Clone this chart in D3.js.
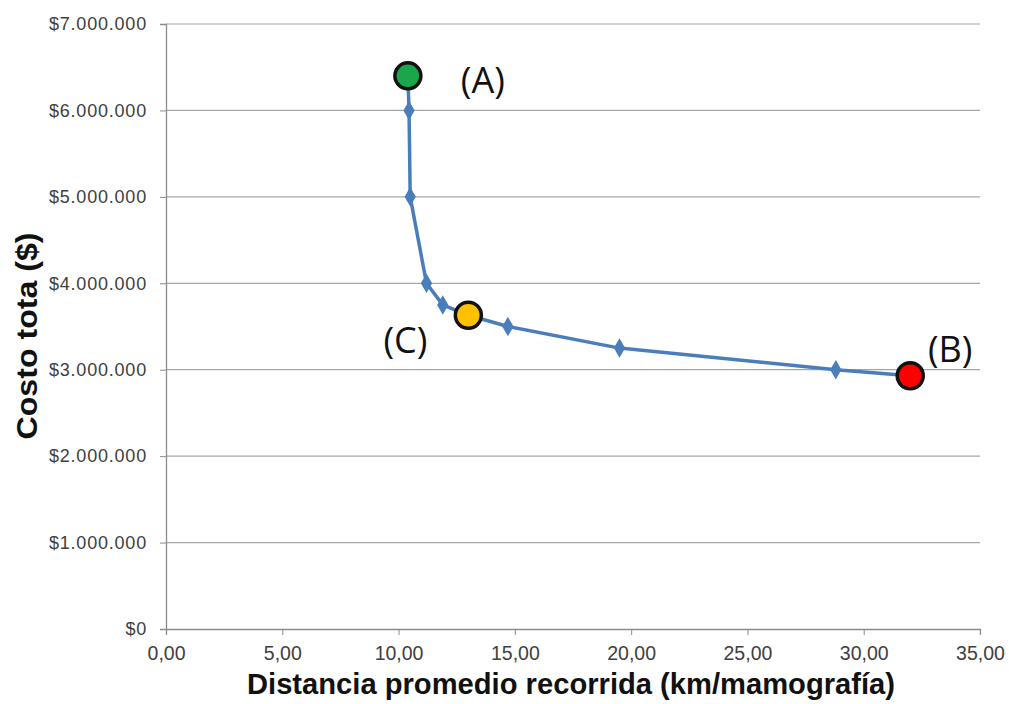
<!DOCTYPE html>
<html><head><meta charset="utf-8">
<script src="https://cdn.jsdelivr.net/npm/d3@7"></script>
<style>body{margin:0;background:#fff}svg{display:block}</style>
</head><body>
<svg id="c" width="1009" height="704"></svg>
<script>
const distance = [10.4, 10.45, 10.5, 11.2, 11.9, 13.0, 14.7, 19.5, 28.8, 32.0];
const cost = [6400000, 6000000, 5000000, 4000000, 3750000, 3630000, 3500000, 3250000, 3000000, 2930000];
const isDiamond = [false, true, true, true, true, false, true, true, true, false];
const highlightIdx = [0, 9, 5];
const highlightLabels = ["(A)", "(B)", "(C)"];
const highlightColors = ["#1aa64a", "#ff0000", "#ffc000"];
const xTicks = [0, 5, 10, 15, 20, 25, 30, 35];
const yTicks = [0, 1000000, 2000000, 3000000, 4000000, 5000000, 6000000, 7000000];
const xTitle = "Distancia promedio recorrida (km/mamografía)";
const yTitle = "Costo tota ($)";

const svg = d3.select("#c");
const x = d3.scaleLinear().domain([0, 35]).range([166, 980]);
const y = d3.scaleLinear().domain([0, 7000000]).range([629, 24]);

const fmtY = v => "$" + d3.format(",")(v).replace(/,/g, ".");
const fmtX = v => d3.format(".2f")(v).replace(".", ",");

// gridlines
svg.append("g").selectAll("line").data(yTicks.filter(d => d > 0)).join("line")
  .attr("x1", 166).attr("x2", 980).attr("y1", d => y(d)).attr("y2", d => y(d))
  .attr("stroke", "#a6a6a6").attr("stroke-width", 1.2);

// y axis
const yAxis = svg.append("g").attr("transform", "translate(166,0)")
  .call(d3.axisLeft(y).tickValues(yTicks).tickFormat(fmtY).tickSize(6).tickPadding(13));
yAxis.select(".domain").attr("stroke", "#8c8c8c").attr("stroke-width", 1.3);
yAxis.selectAll(".tick line").attr("stroke", "#8c8c8c");
yAxis.selectAll("text").attr("font-family", "Liberation Sans, Arial, sans-serif").attr("font-size", 18)
  .attr("letter-spacing", 0.8).attr("fill", "#404040");

// x axis
const xAxis = svg.append("g").attr("transform", "translate(0,629)")
  .call(d3.axisBottom(x).tickValues(xTicks).tickFormat(fmtX).tickSize(6));
xAxis.select(".domain").attr("stroke", "#8c8c8c").attr("stroke-width", 1.3);
xAxis.selectAll(".tick line").attr("stroke", "#8c8c8c");
xAxis.selectAll("text").attr("y", 31).attr("dy", 0)
  .attr("font-family", "Liberation Sans, Arial, sans-serif").attr("font-size", 19.5).attr("fill", "#404040");

// line
const pts = distance.map((d, i) => ({x: d, y: cost[i], diamond: isDiamond[i]}));
svg.append("path").datum(pts)
  .attr("d", d3.line().x(d => x(d.x)).y(d => y(d.y)))
  .attr("fill", "none").attr("stroke", "#4a7ebb").attr("stroke-width", 3.5).attr("stroke-linejoin", "round");

// diamonds
svg.append("g").selectAll("path").data(pts.filter(d => d.diamond)).join("path")
  .attr("transform", d => `translate(${x(d.x)},${y(d.y)})`)
  .attr("d", d3.symbol(d3.symbolDiamond, 110))
  .attr("fill", "#4a7ebb");

// highlight circles
const hl = highlightIdx.map((i, k) => ({x: distance[i], y: cost[i], label: highlightLabels[k], color: highlightColors[k]}));
svg.append("g").selectAll("circle").data(hl).join("circle")
  .attr("cx", d => x(d.x)).attr("cy", d => y(d.y)).attr("r", 13)
  .attr("fill", d => d.color).attr("stroke", "#111").attr("stroke-width", 3.5);

// labels
const labelOffsets = [[75, 17], [40, -14], [-63, 38]];
svg.append("g").selectAll("text").data(hl).join("text")
  .attr("x", (d, i) => x(d.x) + labelOffsets[i][0]).attr("y", (d, i) => y(d.y) + labelOffsets[i][1])
  .attr("text-anchor", "middle")
  .attr("font-family", "Open Sans, Liberation Sans, sans-serif").attr("font-size", 36).attr("fill", "#111")
  .text(d => d.label);

// titles
svg.append("text").attr("x", 571).attr("y", 694).attr("text-anchor", "middle")
  .attr("font-family", "Liberation Sans, Arial, sans-serif").attr("font-weight", "bold").attr("font-size", 29).attr("fill", "#111")
  .attr("textLength", 648).attr("lengthAdjust", "spacingAndGlyphs")
  .text(xTitle);
svg.append("text").attr("transform", "translate(37,336) rotate(-90)").attr("text-anchor", "middle")
  .attr("font-family", "Liberation Sans, Arial, sans-serif").attr("font-weight", "bold").attr("font-size", 29).attr("fill", "#111")
  .attr("textLength", 207).attr("lengthAdjust", "spacingAndGlyphs")
  .text(yTitle);
</script>
</body></html>
